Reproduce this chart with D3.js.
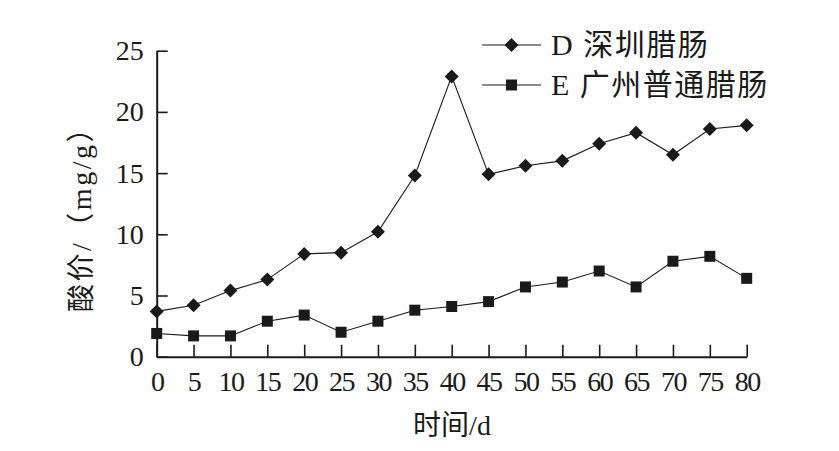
<!DOCTYPE html>
<html>
<head>
<meta charset="utf-8">
<script src="https://cdn.jsdelivr.net/npm/d3@7"></script>
<style>
  html, body { margin: 0; padding: 0; background: #fff; }
  svg { display: block; }
  text { font-family: "Liberation Serif", "Times New Roman", "Noto Sans CJK SC", serif; fill: #1a1a1a; }
</style>
</head>
<body>
<svg id="chart" width="839" height="451"></svg>
<script>
const days = [0,5,10,15,20,25,30,35,40,45,50,55,60,65,70,75,80];
const seriesD = [3.7,4.2,5.4,6.3,8.4,8.5,10.2,14.8,22.9,14.9,15.6,16.0,17.4,18.3,16.5,18.6,18.9];
const seriesE = [1.9,1.7,1.7,2.9,3.4,2.0,2.9,3.8,4.1,4.5,5.7,6.1,7.0,5.7,7.8,8.2,6.4];
const seriesNames = ["D 深圳腊肠", "E 广州普通腊肠"];
const yTicks = [0,5,10,15,20,25];
const xTicks = days;
const xTitle = "时间/d";
const yTitle = "酸价/（mg/g）";

const svg = d3.select("#chart");
const ink = "#1a1a1a";
const x = d3.scaleLinear().domain([0, 80]).range([156.7, 746.7]);
const y = d3.scaleLinear().domain([0, 25]).range([356.7, 50.7]);

// axes
const xAxis = d3.axisBottom(x).tickValues(xTicks).tickSizeInner(-12).tickSizeOuter(0).tickPadding(14).tickFormat(d3.format("d"));
const yAxis = d3.axisLeft(y).tickValues(yTicks).tickSizeInner(-11).tickSizeOuter(0).tickPadding(13).tickFormat(d3.format("d"));

const gx = svg.append("g").attr("transform", `translate(0,${y(0)})`).call(xAxis);
const gy = svg.append("g").attr("transform", `translate(${x(0)},0)`).call(yAxis);
[gx, gy].forEach(g => {
  g.select(".domain").attr("stroke", ink).attr("stroke-width", 2);
  g.selectAll(".tick line").attr("stroke", ink).attr("stroke-width", 1.6);
  g.selectAll(".tick text").attr("font-size", 28).attr("fill", ink)
    .style("font-family", '"Liberation Serif", "Times New Roman", serif');
});
gx.selectAll(".tick text").attr("letter-spacing", -1.5);

// titles
svg.append("text").attr("x", 452).attr("y", 435).attr("text-anchor", "middle")
  .attr("font-size", 28).text(xTitle);
svg.append("text").attr("transform", `translate(91,${212}) rotate(-90)`).attr("text-anchor", "middle")
  .attr("font-size", 28).attr("letter-spacing", 2.5).text(yTitle);

// markers
const diamondPath = (r) => `M0,${-r}L${r},0L0,${r}L${-r},0Z`;
const squarePath = (h) => `M${-h},${-h}H${h}V${h}H${-h}Z`;
const diamond = diamondPath(7);
const square = squarePath(5.5);

const line = d3.line().x((d, i) => x(days[i])).y(d => y(d));
function drawSeries(vals, sym) {
  svg.append("path").datum(vals).attr("d", line).attr("fill", "none").attr("stroke", ink).attr("stroke-width", 1.1);
  svg.append("g").selectAll("path").data(vals).join("path")
    .attr("d", sym)
    .attr("transform", (d, i) => `translate(${x(days[i])},${y(d)})`)
    .attr("fill", ink);
}
drawSeries(seriesD, diamond);
drawSeries(seriesE, square);

// legend
const legend = [{name: seriesNames[0], sym: diamond, yy: 45}, {name: seriesNames[1], sym: square, yy: 85}];
legend.forEach(l => {
  svg.append("line").attr("x1", 482).attr("x2", 541).attr("y1", l.yy).attr("y2", l.yy)
    .attr("stroke", ink).attr("stroke-width", 1.1);
  svg.append("path").attr("d", l.sym).attr("transform", `translate(511.5,${l.yy})`).attr("fill", ink);
  svg.append("text").attr("x", 551).attr("y", l.yy + 10).attr("font-size", 30).attr("letter-spacing", 1.5).text(l.name);
});
</script>
</body>
</html>
